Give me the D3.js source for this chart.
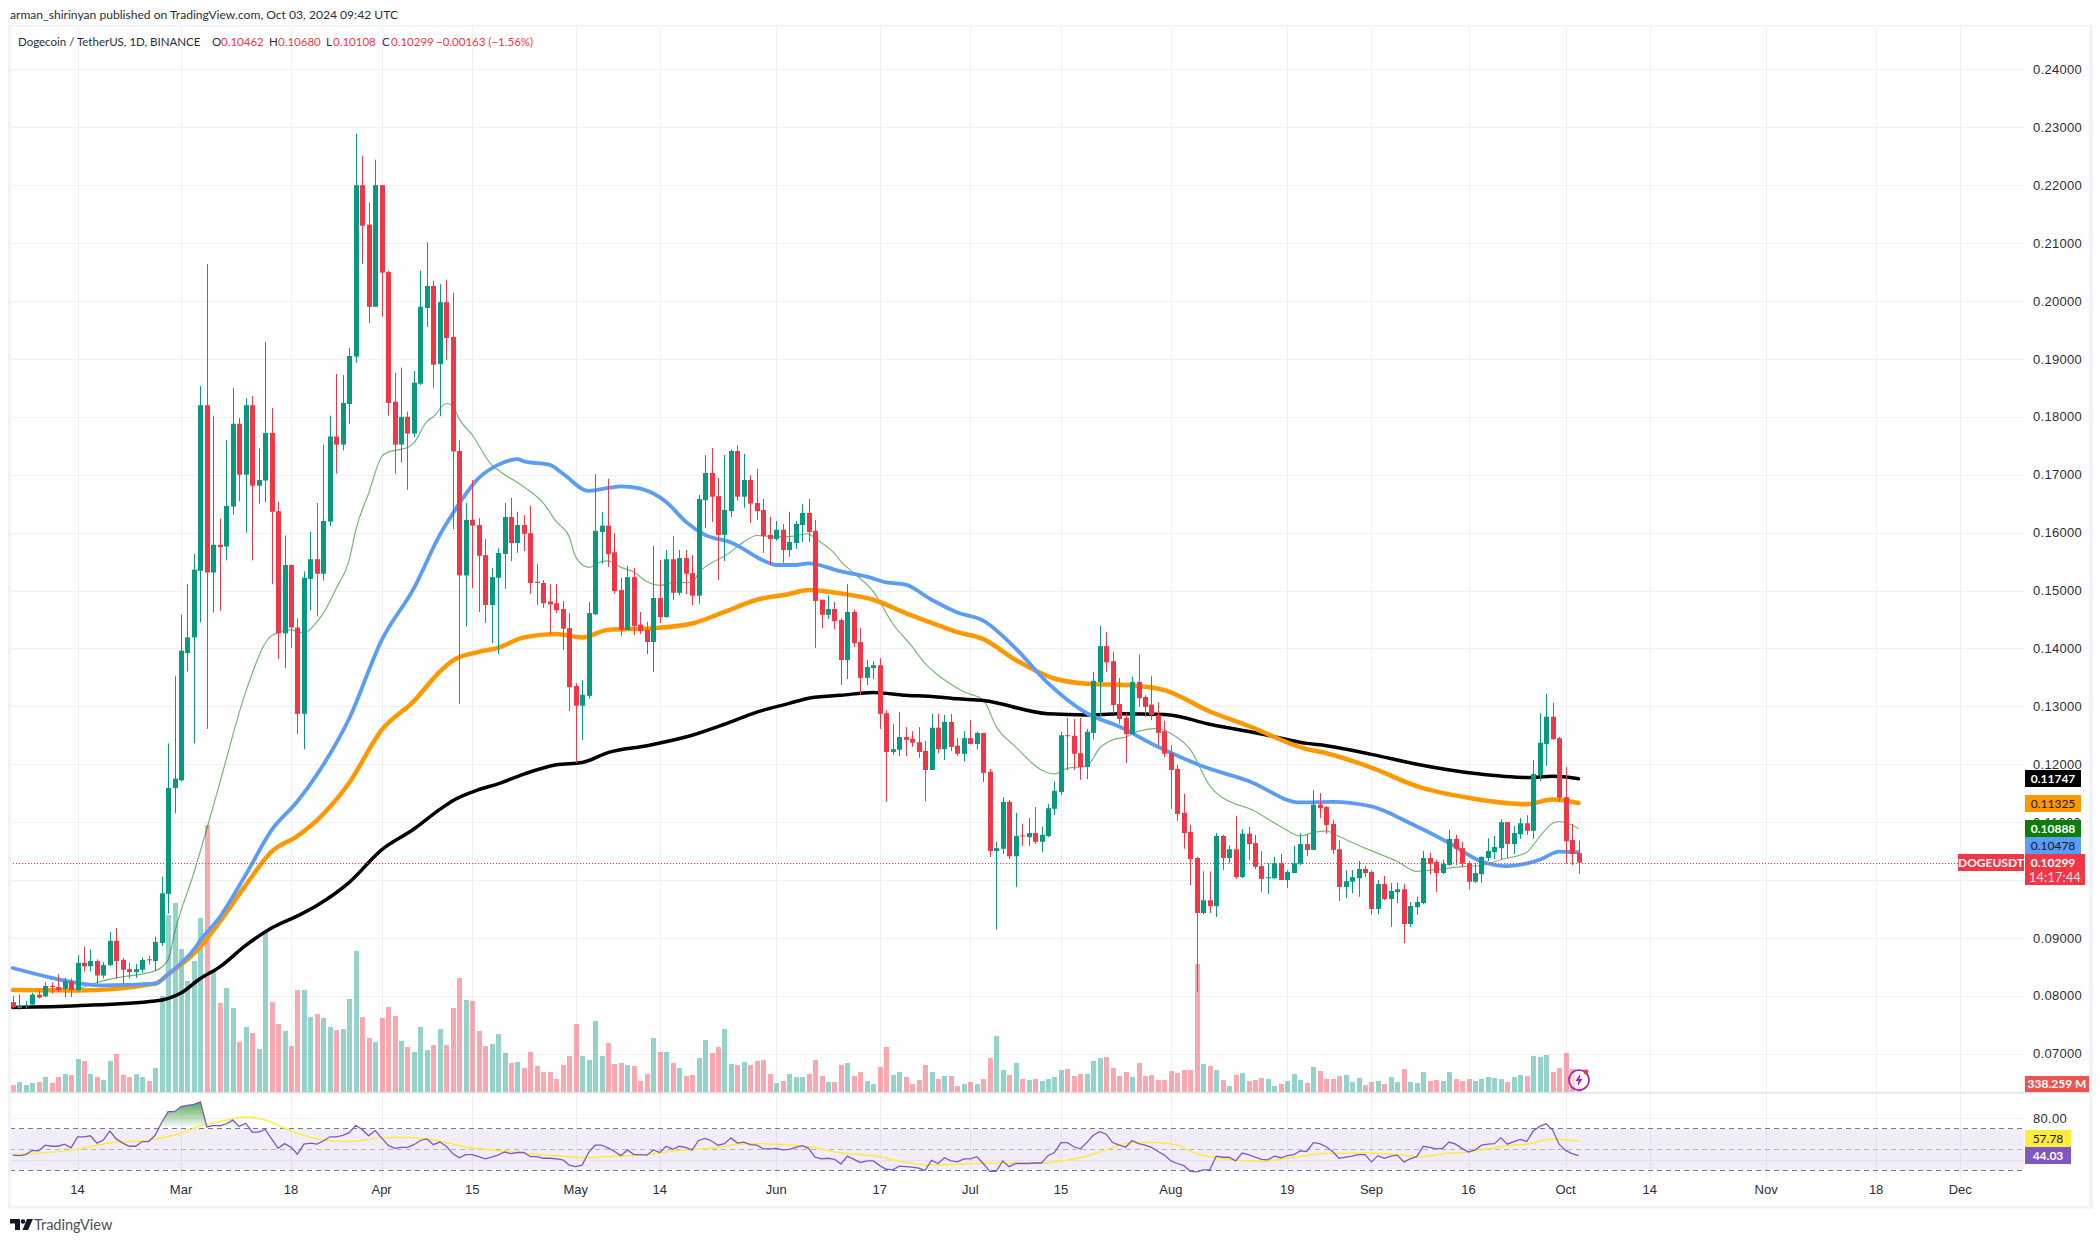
<!DOCTYPE html>
<html>
<head>
<meta charset="utf-8">
<title>DOGEUSDT</title>
<script src="https://cdn.jsdelivr.net/npm/d3@7"></script>
<style>
  html, body { margin: 0; padding: 0; background: #fff; }
  svg { display: block; font-family: Lato, "Noto Sans", sans-serif; }
  .axis text { font-size: 13px; fill: #2a2e39; }
  .axis path, .axis line { display: none; }
</style>
</head>
<body>
<div id="chart"></div>
<script>
// daily candles, first one is 4 Feb 2024
const firstDay = new Date(2024, 1, 4);

const opens = [
  .0789,.0779,.0782,.0785,.0802,.0799,.0817,.0815,.0812,.0825,
  .0810,.0857,.0851,.0860,.0835,.0853,.0895,.0862,.0846,.0841,
  .0845,.0863,.0860,.0891,.0976,.1159,.1172,.1392,.1419,.1534,
  .1820,.1531,.1579,.1576,.1645,.1788,.1700,.1820,.1681,.1690,
  .1772,.1637,.1426,.1544,.1436,.1287,.1520,.1554,.1529,.1619,
  .1766,.1752,.1822,.1904,.2200,.2132,.1990,.2200,.2050,.1826,
  .1752,.1800,.1771,.1857,.1988,.2026,.1891,.1998,.1938,.1741,
  .1526,.1622,.1613,.1561,.1475,.1522,.1563,.1627,.1582,.1613,
  .1599,.1515,.1513,.1481,.1478,.1468,.1435,.1335,.1301,.1318,
  .1459,.1601,.1612,.1566,.1501,.1432,.1523,.1441,.1432,.1411,
  .1487,.1454,.1554,.1496,.1556,.1530,.1491,.1656,.1703,.1663,
  .1596,.1637,.1741,.1662,.1691,.1651,.1639,.1596,.1589,.1605,
  .1570,.1582,.1613,.1634,.1603,.1484,.1458,.1468,.1449,.1380,
  .1463,.1411,.1349,.1366,.1371,.1288,.1221,.1225,.1247,.1244,
  .1238,.1223,.1190,.1263,.1226,.1273,.1232,.1218,.1245,.1235,
  .1254,.1187,.1050,.1054,.1135,.1041,.1077,.1074,.1081,.1066,
  .1076,.1123,.1152,.1250,.1249,.1219,.1195,.1254,.1342,.1404,
  .1378,.1304,.1280,.1252,.1342,.1316,.1303,.1285,.1257,.1219,
  .1192,.1116,.1083,.1038,.0943,.0965,.0955,.1076,.1038,.1053,
  .1005,.1080,.1064,.1024,.1003,.1003,.1029,.1000,.1012,.1028,
  .1062,.1052,.1130,.1126,.1097,.1053,.0988,.0997,.1003,.1019,
  .1014,.0950,.0993,.0967,.0979,.0984,.0924,.0953,.0960,.1038,
  .1031,.1012,.1026,.1071,.1055,.1029,.0997,.1010,.1038,.1048,
  .1055,.1100,.1062,.1079,.1098,.1085,.1181,.1235,.1282,.1245,
  .1143,.1069,.10462
];
const highs = [
  .0800,.0802,.0791,.0805,.0810,.0823,.0823,.0837,.0831,.0830,
  .0870,.0885,.0880,.0863,.0858,.0910,.0917,.0865,.0857,.0855,
  .0866,.0869,.0902,.1006,.1236,.1352,.1458,.1511,.1563,.1853,
  .2064,.1801,.1624,.1760,.1850,.1798,.1832,.1836,.1745,.1929,
  .1815,.1653,.1595,.1545,.1452,.1533,.1601,.1651,.1752,.1802,
  .1874,.1872,.1919,.2289,.2250,.2170,.2244,.2200,.2052,.1876,
  .1885,.1809,.1879,.2052,.2101,.2035,.2029,.2037,.2014,.1760,
  .1651,.1691,.1625,.1589,.1539,.1573,.1651,.1660,.1636,.1630,
  .1646,.1546,.1518,.1511,.1511,.1482,.1461,.1340,.1345,.1480,
  .1701,.1636,.1693,.1599,.1522,.1542,.1539,.1463,.1446,.1577,
  .1553,.1570,.1594,.1570,.1570,.1561,.1665,.1734,.1746,.1694,
  .1734,.1744,.1751,.1736,.1699,.1710,.1658,.1627,.1620,.1615,
  .1636,.1620,.1649,.1658,.1622,.1484,.1492,.1480,.1452,.1511,
  .1467,.1435,.1380,.1378,.1383,.1293,.1269,.1290,.1264,.1257,
  .1264,.1240,.1287,.1287,.1285,.1287,.1245,.1257,.1276,.1256,
  .1254,.1192,.1066,.1143,.1138,.1116,.1097,.1107,.1126,.1092,
  .1131,.1170,.1256,.1280,.1278,.1280,.1261,.1359,.1439,.1428,
  .1394,.1349,.1288,.1351,.1389,.1319,.1352,.1307,.1275,.1233,
  .1199,.1149,.1095,.1040,.1015,.1015,.1081,.1078,.1060,.1111,
  .1088,.1092,.1078,.1050,.1029,.1040,.1045,.1017,.1059,.1081,
  .1079,.1155,.1150,.1128,.1104,.1069,.1017,.1017,.1033,.1024,
  .1016,.1000,.1007,.0995,.0995,.0993,.0962,.0971,.1050,.1047,
  .1035,.1035,.1087,.1078,.1066,.1033,.1029,.1041,.1072,.1076,
  .1105,.1100,.1093,.1107,.1112,.1207,.1288,.1321,.1306,.1247,
  .1195,.1097,.1068
];
const lows = [
  .0778,.0776,.0778,.0783,.0795,.0798,.0804,.0807,.0797,.0798,
  .0807,.0842,.0842,.0821,.0830,.0851,.0830,.0820,.0830,.0831,
  .0840,.0854,.0843,.0886,.0942,.1115,.1170,.1360,.1236,.1445,
  .1261,.1462,.1465,.1552,.1631,.1654,.1600,.1552,.1650,.1652,
  .1511,.1382,.1366,.1401,.1252,.1226,.1466,.1455,.1517,.1611,
  .1702,.1742,.1788,.1893,.2064,.1962,.1990,.1973,.1802,.1702,
  .1721,.1674,.1765,.1855,.1955,.1850,.1801,.1898,.1606,.1304,
  .1438,.1504,.1463,.1444,.1409,.1390,.1503,.1551,.1565,.1568,
  .1494,.1475,.1470,.1425,.1461,.1397,.1292,.1202,.1242,.1313,
  .1458,.1546,.1541,.1494,.1421,.1432,.1423,.1425,.1390,.1359,
  .1444,.1453,.1484,.1492,.1494,.1475,.1477,.1608,.1618,.1518,
  .1551,.1627,.1655,.1643,.1617,.1622,.1565,.1544,.1586,.1548,
  .1558,.1572,.1584,.1584,.1401,.1435,.1451,.1433,.1337,.1347,
  .1402,.1320,.1337,.1347,.1261,.1135,.1216,.1214,.1214,.1230,
  .1211,.1136,.1190,.1219,.1207,.1223,.1214,.1205,.1234,.1226,
  .1169,.1040,.0915,.1045,.1036,.0988,.1059,.1059,.1062,.1048,
  .1074,.1112,.1147,.1190,.1190,.1173,.1174,.1243,.1283,.1359,
  .1287,.1270,.1202,.1252,.1299,.1282,.1276,.1233,.1212,.1123,
  .1102,.1054,.0991,.0807,.0941,.0943,.0936,.1017,.1029,.1002,
  .1003,.1034,.1019,.0979,.0976,.1002,.1000,.0986,.1012,.1026,
  .1041,.1052,.1107,.1080,.1045,.0964,.0969,.0977,.0971,.1005,
  .0940,.0941,.0965,.0919,.0960,.0891,.0919,.0940,.0958,.1010,
  .0979,.1010,.1024,.1026,.1022,.0984,.0995,.0995,.1033,.1036,
  .1036,.1038,.1045,.1071,.1078,.1071,.1171,.1197,.1243,.1135,
  .1028,.1026,.10108
];
const closes = [
  .0780,.0782,.0784,.0802,.0797,.0817,.0815,.0810,.0825,.0810,
  .0857,.0851,.0860,.0835,.0853,.0895,.0860,.0845,.0841,.0846,
  .0862,.0862,.0893,.0977,.1159,.1175,.1396,.1419,.1536,.1820,
  .1531,.1579,.1575,.1646,.1788,.1700,.1820,.1681,.1691,.1772,
  .1636,.1426,.1544,.1436,.1287,.1522,.1554,.1529,.1620,.1766,
  .1752,.1824,.1905,.2200,.2130,.1990,.2200,.2049,.1824,.1752,
  .1800,.1771,.1859,.1990,.2026,.1890,.1998,.1936,.1740,.1526,
  .1622,.1612,.1560,.1475,.1523,.1565,.1627,.1582,.1613,.1598,
  .1513,.1513,.1478,.1476,.1466,.1434,.1333,.1301,.1320,.1461,
  .1603,.1612,.1563,.1499,.1432,.1523,.1439,.1430,.1411,.1487,
  .1454,.1554,.1496,.1556,.1529,.1491,.1658,.1703,.1662,.1596,
  .1639,.1741,.1662,.1691,.1650,.1637,.1594,.1589,.1605,.1570,
  .1584,.1615,.1634,.1601,.1482,.1458,.1468,.1447,.1380,.1463,
  .1409,.1349,.1368,.1371,.1287,.1221,.1226,.1247,.1242,.1237,
  .1221,.1190,.1263,.1226,.1273,.1230,.1218,.1245,.1235,.1254,
  .1185,.1050,.1055,.1135,.1041,.1076,.1076,.1081,.1066,.1078,
  .1124,.1154,.1250,.1249,.1218,.1195,.1256,.1344,.1404,.1376,
  .1302,.1278,.1252,.1342,.1314,.1299,.1285,.1254,.1218,.1190,
  .1114,.1081,.1036,.0943,.0965,.0955,.1076,.1038,.1053,.1005,
  .1080,.1062,.1023,.1002,.1005,.1029,.1000,.1014,.1029,.1062,
  .1052,.1130,.1124,.1095,.1052,.0988,.0998,.1005,.1019,.1012,
  .0950,.0993,.0967,.0981,.0984,.0924,.0955,.0962,.1038,.1028,
  .1012,.1028,.1071,.1054,.1028,.0997,.1012,.1040,.1050,.1057,
  .1100,.1062,.1081,.1098,.1085,.1183,.1237,.1282,.1243,.1142,
  .1067,.1045,.10299
];
// volume in millions of DOGE
const volumes = [
  490,700,490,630,700,1050,630,1050,1260,1190,
  2310,2170,1260,1050,840,2170,2660,1190,1050,1260,
  1050,770,1680,6720,12390,13230,10010,7770,9170,12180,
  18690,8470,6230,7280,5880,3500,4550,4130,3010,11130,
  6300,4760,4270,3220,7140,7140,5250,5460,5180,4550,
  4340,4410,6510,9870,5250,3780,3500,5180,5950,5320,
  3570,3150,2800,4550,2940,3290,4410,3290,5880,7980,
  6440,6370,4270,3220,3360,4060,2730,2030,2100,1680,
  2800,1820,1400,1400,910,1890,2520,4760,2520,2240,
  4970,2520,3430,1960,2030,1890,1820,770,1260,3780,
  2800,2800,2030,1680,1120,1190,2380,3640,2730,3150,
  4410,1960,1890,2100,1890,2170,2240,1260,630,770,
  1260,1050,1050,1260,2240,1120,700,700,1890,2030,
  1120,1400,770,560,1750,3150,1190,1400,1050,560,
  840,1890,1400,910,1120,1120,420,560,700,560,
  910,2380,3920,1540,1190,2030,910,840,910,770,
  910,1050,1540,1610,1120,1260,1260,2170,2380,2450,
  1680,1120,1400,1050,2030,1120,1190,840,840,1470,
  1330,1540,1540,8960,1960,1820,1540,840,420,1190,
  1330,770,840,980,910,420,560,770,1260,840,
  630,1750,1470,910,910,1120,1190,700,980,490,
  700,770,560,1050,700,1610,700,630,1400,770,
  840,770,1400,910,770,910,770,910,1050,980,
  910,700,1050,1190,1120,2520,2450,2590,1400,1680,
  2730,1610,338
];
const rsiValues = [
  44.5,44,45,49,48.5,54,53,53,55,51.5,
  62,62,63,56,59,67.5,60,56,53,53,
  57.5,57.5,63.5,75.5,86,86,91,92,93,95.5,
  71.5,73,72.5,74.5,78,72,75,66.5,66.5,69,
  60,51,55.5,52,45.5,55,56,55,58,62,
  62,63.5,66,73,69,63,68,61,54,51,
  52,52,54.5,58.5,60,54.5,57,53,46,42,
  45,45,43,41,42.5,44.5,47.5,46,47,47,
  43,43,41.5,41.5,41,40,35,33.5,35,47,
  54,54,51.5,48,44,49.5,45,45,44.5,49.5,
  47,53,50,53,52,49.5,58.5,60.5,58,54,
  55.5,61,56,57,54.5,54,50.5,50.5,51,49.5,
  50,52,53.5,51,42.5,41,41.5,40.5,36,43.5,
  40.5,37.5,39,39,34.5,31,30.5,34,33.5,33,
  32,30,39.5,36.5,42,39,38,41,41,43,
  36.5,29,29,39,33.5,36.5,36.5,36.5,37,37,
  44,47,56.5,56.5,52.5,50.5,56.5,63.5,67,64.5,
  56.5,54,52,58.5,55.5,54,52,48,44.5,39,
  36.5,34.5,29,28.5,30.5,30.5,43.5,42.5,42.5,39,
  46.5,45,42.5,40.5,40,43.5,42,44,45,48.5,
  48,56.5,55.5,52.5,48,41.5,42.5,43.5,45,45,
  38,44,41.5,43.5,44.5,38,41,43,53,52,
  50.5,51,57,55,51,47.5,49.5,54,55,55.5,
  61,55,57.5,59.5,57.5,67.5,72,74.5,68.5,55,
  49,46,44
];

const blackDays = [0,10,22,26,29,32,36,40,44,47,52,57,62,66,68,72,75,79,84,88,92,98,105,110,115,120,123,128,133,138,142,146,150,160,166,171,178,185,194,200,203,210,217,226,234,238,242];
const blackVals = [.0780,.0783,.0791,.0805,.0830,.0850,.0887,.0917,.0938,.0956,.0996,.1052,.1088,.1122,.1137,.1156,.1166,.1183,.1199,.1203,.1220,.1232,.1250,.1269,.1290,.1305,.1314,.1319,.1324,.1319,.1317,.1313,.1310,.1287,.1285,.1287,.1286,.1269,.1250,.1236,.1232,.1217,.1200,.1184,.1177,.1179,.1175];
const orangeDays = [0,10,22,24,28,32,36,40,44,47,52,57,62,66,68,72,75,79,84,88,92,99,105,110,115,120,123,128,133,138,143,146,150,155,161,166,173,178,185,191,200,203,210,217,226,234,238,242];
const orangeVals = [.0810,.0809,.0821,.0837,.0873,.0928,.0991,.1049,.1076,.1103,.1168,.1259,.1309,.1360,.1379,.1394,.1401,.1419,.1425,.1419,.1432,.1435,.1443,.1463,.1484,.1494,.1501,.1495,.1484,.1461,.1440,.1428,.1416,.1380,.1348,.1339,.1336,.1328,.1291,.1266,.1226,.1219,.1194,.1162,.1140,.1131,.1139,.1133];
const blueDays = [0,6,10,14,22,24,28,29,32,36,40,44,47,52,57,62,66,68,72,75,78,79,83,85,89,91,94,97,101,104,107,111,117,118,121,123,128,132,135,138,142,146,150,155,160,166,171,177,184,191,199,204,210,216,222,227,231,236,239,242];
const blueVals = [.0848,.0831,.0822,.0818,.0821,.0837,.0880,.0896,.0936,.1009,.1086,.1136,.1182,.1279,.1414,.1504,.1596,.1633,.1694,.1717,.1727,.1723,.1717,.1702,.1672,.1675,.1680,.1676,.1653,.1619,.1596,.1583,.1547,.1544,.1544,.1547,.1533,.1524,.1514,.1510,.1484,.1462,.1448,.1400,.1340,.1288,.1265,.1230,.1196,.1171,.1134,.1135,.1127,.1098,.1064,.1032,.1024,.1035,.1049,.1048];
const greenDays = [10,13,16,22,24,25,28,30,32,36,40,43,45,47,48,50,52,53,55,57,58,61,62,64,65,67,68,69,71,74,75,79,82,84,86,87,89,91,92,94,96,98,100,102,105,106,108,110,113,115,118,120,123,124,127,128,130,133,136,139,141,143,147,150,152,155,159,161,163,166,168,170,172,174,177,179,182,185,189,191,196,199,201,203,205,209,214,217,220,224,227,230,234,236,238,239,242];
const greenVals = [.0811,.0823,.0831,.0843,.0862,.0909,.1013,.1089,.1168,.1325,.1422,.1432,.1426,.1446,.1461,.1504,.1553,.1604,.1668,.1731,.1739,.1747,.1755,.1792,.1800,.1823,.1819,.1796,.1769,.1717,.1708,.1679,.1651,.1619,.1593,.1558,.1540,.1550,.1551,.1540,.1532,.1515,.1509,.1513,.1514,.1530,.1548,.1559,.1584,.1595,.1593,.1593,.1598,.1590,.1564,.1550,.1530,.1498,.1443,.1403,.1374,.1354,.1325,.1311,.1265,.1230,.1190,.1183,.1193,.1197,.1228,.1242,.1247,.1257,.1262,.1253,.1225,.1163,.1131,.1124,.1092,.1076,.1082,.1085,.1075,.1055,.1032,.1015,.1018,.1023,.1025,.1035,.1048,.1075,.1098,.1101,.1089];
const rsiMaDays = [0,10,16,19,22,26,29,32,36,39,43,48,52,57,60,65,70,74,78,81,85,88,93,98,103,108,113,118,123,127,134,138,143,148,153,159,162,166,169,173,177,180,183,187,193,197,203,209,214,217,221,226,231,234,238,242];
const rsiMaVals = [45,50,57,57.5,60,65.5,72.5,76.5,81,78,67.5,59,57.5,61,61.5,59,52.5,49.5,47,45,43.5,42,43.5,45,49,51,55.5,55,52.5,47.5,43,37.5,35,36.5,37,37,39,43.5,49.5,56.5,56.5,54,46,41,38.5,41.5,46,46.5,45,43,45.5,48.5,53.5,55,60,57.8];

const gridPrices = d3.range(7, 25).map((d) => d / 100);
// 0.10000 sits under the last price tag, so it gets no label
const priceTicks = gridPrices.filter((d) => d !== 0.1);
const timeTicks = [
  [new Date(2024, 1, 14), "14"], [new Date(2024, 2, 1), "Mar"], [new Date(2024, 2, 18), "18"],
  [new Date(2024, 3, 1), "Apr"], [new Date(2024, 3, 15), "15"], [new Date(2024, 4, 1), "May"],
  [new Date(2024, 4, 14), "14"], [new Date(2024, 5, 1), "Jun"], [new Date(2024, 5, 17), "17"],
  [new Date(2024, 6, 1), "Jul"], [new Date(2024, 6, 15), "15"], [new Date(2024, 7, 1), "Aug"],
  [new Date(2024, 7, 19), "19"], [new Date(2024, 8, 1), "Sep"], [new Date(2024, 8, 16), "16"],
  [new Date(2024, 9, 1), "Oct"], [new Date(2024, 9, 14), "14"], [new Date(2024, 10, 1), "Nov"],
  [new Date(2024, 10, 18), "18"], [new Date(2024, 11, 1), "Dec"]
];

const UP = "#089981";
const DOWN = "#f23645";
const GRID = "#f0f0f3";

const width = 2100, height = 1243;
const paneLeft = 10, paneRight = 2024, frameRight = 2090, paneTop = 26, frameBottom = 1207;

const svg = d3.select("#chart").append("svg").attr("width", width).attr("height", height);
svg.append("rect").attr("width", width).attr("height", height).attr("fill", "#fff");

const dayOf = (i) => d3.timeDay.offset(firstDay, i);
const x = d3.scaleTime().domain([new Date(2024, 1, 14), new Date(2024, 9, 3)]).range([77.5, 1578.5]);
const xi = (i) => Math.round(x(dayOf(i)));
const y = d3.scaleLinear().domain([0.07, 0.24]).range([1053.7, 69.4]);
const yVol = d3.scaleLinear().domain([0, 18900]).range([1092, 822]);
const yRsi = d3.scaleLinear().domain([30, 80]).range([1170.3, 1118]);

// grid
const grid = svg.append("g");
grid.selectAll("line.h").data(gridPrices).join("line").attr("class", "h")
  .attr("x1", paneLeft).attr("x2", paneRight)
  .attr("y1", (d) => Math.round(y(d)) + 0.5).attr("y2", (d) => Math.round(y(d)) + 0.5)
  .attr("stroke", GRID);
grid.selectAll("line.r").data([80, 40]).join("line").attr("class", "r")
  .attr("x1", paneLeft).attr("x2", paneRight)
  .attr("y1", (d) => Math.round(yRsi(d)) + 0.5).attr("y2", (d) => Math.round(yRsi(d)) + 0.5)
  .attr("stroke", GRID);
grid.selectAll("line.v").data(timeTicks).join("line").attr("class", "v")
  .attr("x1", (d) => Math.round(x(d[0])) + 0.5).attr("x2", (d) => Math.round(x(d[0])) + 0.5)
  .attr("y1", paneTop).attr("y2", 1180)
  .attr("stroke", GRID);

// rsi band
svg.append("rect")
  .attr("x", paneLeft).attr("width", paneRight - paneLeft)
  .attr("y", yRsi(70)).attr("height", yRsi(30) - yRsi(70))
  .attr("fill", "#7e57c2").attr("fill-opacity", 0.1);
[[70, "#787b86"], [50, "#b4b4bc"], [30, "#787b86"]].forEach(([level, color]) => {
  svg.append("line")
    .attr("x1", paneLeft).attr("x2", paneRight)
    .attr("y1", Math.round(yRsi(level)) + 0.5).attr("y2", Math.round(yRsi(level)) + 0.5)
    .attr("stroke", color).attr("stroke-dasharray", "5 4");
});

// volume
svg.append("g").selectAll("rect").data(volumes).join("rect")
  .attr("x", (d, i) => xi(i) - 2).attr("width", 5)
  .attr("y", (d) => yVol(d)).attr("height", (d) => yVol(0) - yVol(d))
  .attr("fill", (d, i) => (closes[i] >= opens[i] ? UP : DOWN))
  .attr("fill-opacity", 0.43);

// moving averages
const maLine = (days, vals) => d3.line().curve(d3.curveMonotoneX)
  .x((d, i) => x(dayOf(days[i]))).y((d) => y(d))(vals);
[[greenDays, greenVals, "#008000", 1.2, 0.55], [blackDays, blackVals, "#000", 3.5, 1],
 [orangeDays, orangeVals, "#ff9800", 4.5, 1], [blueDays, blueVals, "#5b9cf6", 3.8, 1]].forEach(([days, vals, color, w, op]) => {
  svg.append("path").attr("d", maLine(days, vals))
    .attr("fill", "none").attr("stroke", color).attr("stroke-width", w)
    .attr("stroke-opacity", op).attr("stroke-linejoin", "round").attr("stroke-linecap", "round");
});

// last price line
svg.append("line")
  .attr("x1", paneLeft).attr("x2", 1958)
  .attr("y1", Math.round(y(closes[242])) + 0.5).attr("y2", Math.round(y(closes[242])) + 0.5)
  .attr("stroke", DOWN).attr("stroke-dasharray", "1 2");

// candles
const candleIdx = d3.range(opens.length);
const candles = svg.append("g");
candles.selectAll("rect.wick").data(candleIdx).join("rect").attr("class", "wick")
  .attr("x", (i) => xi(i)).attr("width", 1)
  .attr("y", (i) => y(highs[i])).attr("height", (i) => y(lows[i]) - y(highs[i]))
  .attr("fill", (i) => (closes[i] >= opens[i] ? UP : DOWN));
candles.selectAll("rect.body").data(candleIdx).join("rect").attr("class", "body")
  .attr("x", (i) => xi(i) - 2).attr("width", 5)
  .attr("y", (i) => y(Math.max(opens[i], closes[i])))
  .attr("height", (i) => Math.max(1, Math.abs(y(opens[i]) - y(closes[i]))))
  .attr("fill", (i) => (closes[i] >= opens[i] ? UP : DOWN));

// rsi lines, with the overbought fill
const rsiLine = d3.line().x((d, i) => x(dayOf(i))).y((d) => yRsi(d));
const defs = svg.append("defs");
const grad = defs.append("linearGradient").attr("id", "overbought")
  .attr("gradientUnits", "userSpaceOnUse")
  .attr("x1", 0).attr("x2", 0).attr("y1", yRsi(95)).attr("y2", yRsi(70));
grad.append("stop").attr("offset", 0).attr("stop-color", "#43a047").attr("stop-opacity", 0.9);
grad.append("stop").attr("offset", 1).attr("stop-color", "#43a047").attr("stop-opacity", 0);
defs.append("clipPath").attr("id", "above70").append("rect")
  .attr("x", paneLeft).attr("width", paneRight - paneLeft).attr("y", yRsi(100)).attr("height", yRsi(70) - yRsi(100));
svg.append("path").attr("clip-path", "url(#above70)").attr("fill", "url(#overbought)")
  .attr("d", d3.area().x((d, i) => x(dayOf(i))).y0(yRsi(70)).y1((d) => yRsi(d))(rsiValues));
svg.append("path")
  .attr("d", d3.line().curve(d3.curveMonotoneX).x((d, i) => x(dayOf(rsiMaDays[i]))).y((d) => yRsi(d))(rsiMaVals))
  .attr("fill", "none").attr("stroke", "#ffeb3b").attr("stroke-width", 1.5);
svg.append("path").attr("d", rsiLine(rsiValues))
  .attr("fill", "none").attr("stroke", "#7e57c2").attr("stroke-width", 1.3);

// frame
const frame = svg.append("g").attr("fill", "#f0f3fa");
frame.append("rect").attr("x", 9).attr("y", 25).attr("width", frameRight + 3 - 9).attr("height", 2);
frame.append("rect").attr("x", 8).attr("y", 25).attr("width", 3).attr("height", frameBottom - 24);
frame.append("rect").attr("x", frameRight - 1).attr("y", 25).attr("width", 4).attr("height", frameBottom - 24);
frame.append("rect").attr("x", 8).attr("y", frameBottom - 1).attr("width", frameRight - 5).attr("height", 3);
svg.append("rect").attr("x", paneLeft).attr("y", 1092).attr("width", frameRight - paneLeft).attr("height", 1.5).attr("fill", "#e0e3eb");

// axes
const yAxis = svg.append("g").attr("class", "axis").attr("transform", "translate(2024,0)")
  .call(d3.axisRight(y).tickValues(priceTicks).tickFormat(d3.format(".5f")).tickSize(0).tickPadding(9));
yAxis.selectAll("text").attr("letter-spacing", "0.3px");
const rsiAxis = svg.append("g").attr("class", "axis").attr("transform", "translate(2024,0)")
  .call(d3.axisRight(yRsi).tickValues([80]).tickFormat(d3.format(".2f")).tickSize(0).tickPadding(9));
rsiAxis.selectAll("text").attr("letter-spacing", "0.3px");
svg.append("g").attr("class", "axis").attr("transform", "translate(-0.5,1180)")
  .call(d3.axisBottom(x).tickValues(timeTicks.map((d) => d[0]))
    .tickFormat((d, i) => timeTicks[i][1]).tickSize(0).tickPadding(5));

// price tags on the right
function tag(tx, ty, w, h, bg, fg, text, weight) {
  svg.append("rect").attr("x", tx).attr("y", ty).attr("width", w).attr("height", h).attr("fill", bg);
  svg.append("text").attr("x", tx + w / 2).attr("y", ty + h / 2).attr("dy", "0.36em")
    .attr("text-anchor", "middle").attr("font-size", 12).attr("font-weight", weight || 400)
    .attr("fill", fg).text(text);
}
tag(2025, 770, 56, 17, "#000", "#fff", "0.11747", 700);
tag(2025, 795, 56, 17, "#ff9800", "#131722", "0.11325");
tag(2025, 820, 56, 17, "#0a7d0a", "#fff", "0.10888", 700);
tag(2025, 837, 56, 17, "#5b9cf6", "#131722", "0.10478");
tag(2025, 854, 60, 31, DOWN, "#fff", "", 700);
tag(1958, 854, 66, 17, DOWN, "#fff", "DOGEUSDT", 700);
svg.append("text").attr("x", 2053).attr("y", 863).attr("dy", "0.36em").attr("text-anchor", "middle")
  .attr("font-size", 12).attr("font-weight", 700).attr("fill", "#fff").text("0.10299");
svg.append("text").attr("x", 2055).attr("y", 877).attr("dy", "0.36em").attr("text-anchor", "middle")
  .attr("font-size", 12.5).attr("fill", "#fce3e5").attr("letter-spacing", "0.3px").text("14:17:44");
tag(2025, 1076, 64, 16, "#ef5350", "#fff", "338.259 M", 700);
tag(2025, 1130, 46, 17, "#ffeb3b", "#131722", "57.78");
tag(2025, 1147, 46, 17, "#7e57c2", "#fff", "44.03", 700);

// header and legend
svg.append("text").attr("x", 10).attr("y", 15).attr("dy", "0.36em")
  .attr("font-size", 12.1).attr("fill", "#2a2e39")
  .text("arman_shirinyan published on TradingView.com, Oct 03, 2024 09:42 UTC");
const legend = [
  [18, "Dogecoin / TetherUS, 1D, BINANCE", "#2a2e39"],
  [212, "O", "#2a2e39"], [221, "0.10462", DOWN],
  [269, "H", "#2a2e39"], [278, "0.10680", DOWN],
  [326, "L", "#2a2e39"], [333, "0.10108", DOWN],
  [382, "C", "#2a2e39"], [391, "0.10299", DOWN],
  [436, "−0.00163 (−1.56%)", DOWN]
];
svg.append("g").selectAll("text").data(legend).join("text")
  .attr("x", (d) => d[0]).attr("y", 42).attr("dy", "0.36em")
  .attr("font-size", 11.5).attr("fill", (d) => d[2]).text((d) => d[1]);

// tradingview mark
svg.append("path").attr("fill", "#131722")
  .attr("d", "M10 1219h10v11h-5v-6.5h-5z M27 1219h6l-5 11h-5.5z");
svg.append("circle").attr("cx", 23).attr("cy", 1221.5).attr("r", 2.3).attr("fill", "#131722");
svg.append("text").attr("x", 34).attr("y", 1225).attr("dy", "0.36em")
  .attr("font-size", 14.5).attr("fill", "#4a4e59").text("TradingView");

// lightning badge on the last bar
const badge = svg.append("g").attr("transform", "translate(1579,1080)");
badge.append("circle").attr("r", 10).attr("fill", "#fff").attr("fill-opacity", 0.55)
  .attr("stroke", "#9c27b0").attr("stroke-width", 1.6);
badge.append("path").attr("d", "M1.5 -6.5 L-3.5 1 L-0.5 1 L-1.5 6.5 L3.5 -1 L0.5 -1 Z").attr("fill", "#9c27b0");
badge.append("circle").attr("cx", 7).attr("cy", -8).attr("r", 2.4).attr("fill", DOWN);
</script>
</body>
</html>
